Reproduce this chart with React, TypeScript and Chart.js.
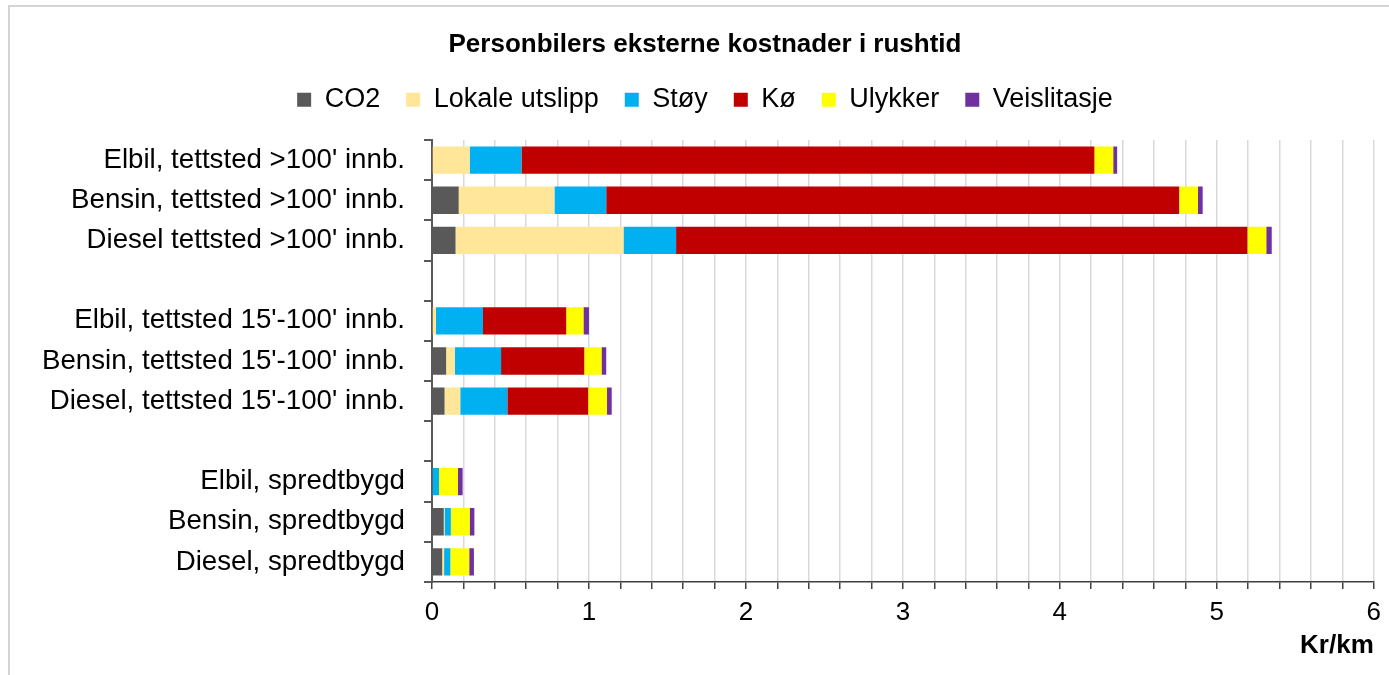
import React, { useEffect, useRef } from "react";
import { Chart, registerables } from "chart.js";

Chart.register(...registerables);

const categories: string[] = [
  "Elbil, tettsted >100' innb.",
  "Bensin, tettsted >100' innb.",
  "Diesel tettsted >100' innb.",
  "",
  "Elbil, tettsted 15'-100' innb.",
  "Bensin, tettsted 15'-100' innb.",
  "Diesel, tettsted 15'-100' innb.",
  "",
  "Elbil, spredtbygd",
  "Bensin, spredtbygd",
  "Diesel, spredtbygd",
];

const co2: (number | null)[] = [0, 0.17, 0.15, null, 0, 0.09, 0.08, null, 0, 0.075, 0.065];
const lokaleUtslipp: (number | null)[] = [0.24, 0.61, 1.07, null, 0.025, 0.055, 0.1, null, 0, 0.005, 0.012];
const stoy: (number | null)[] = [0.33, 0.33, 0.335, null, 0.3, 0.295, 0.3, null, 0.045, 0.04, 0.04];
const ko: (number | null)[] = [3.65, 3.65, 3.64, null, 0.53, 0.53, 0.515, null, 0, 0, 0];
const ulykker: (number | null)[] = [0.12, 0.12, 0.12, null, 0.11, 0.11, 0.12, null, 0.12, 0.12, 0.12];
const veislitasje: (number | null)[] = [0.025, 0.03, 0.035, null, 0.035, 0.03, 0.03, null, 0.03, 0.03, 0.03];

const seriesNames = ["CO2", "Lokale utslipp", "Støy", "Kø", "Ulykker", "Veislitasje"];
const seriesColors = ["#595959", "#FFE699", "#00B0F0", "#C00000", "#FFFF00", "#7030A0"];
const xTickLabels = ["0", "1", "2", "3", "4", "5", "6"];

const FONT = "'Liberation Sans', Arial, sans-serif";

const framePlugin = {
  id: "frame",
  beforeDraw(chart: any) {
    const ctx = chart.ctx;
    ctx.save();
    ctx.fillStyle = "#ffffff";
    ctx.fillRect(0, 0, chart.width, chart.height);
    ctx.fillStyle = "#d4d4d4";
    ctx.fillRect(8, 5, chart.width - 8, 2);
    ctx.fillRect(8, 5, 2, chart.height - 5);
    ctx.restore();
  },
};

export default function App() {
  const canvasRef = useRef<HTMLCanvasElement | null>(null);

  useEffect(() => {
    if (!canvasRef.current) return;
    const values = [co2, lokaleUtslipp, stoy, ko, ulykker, veislitasje];
    const chart = new Chart(canvasRef.current, {
      type: "bar",
      data: {
        labels: categories,
        datasets: values.map((d, i) => ({
          label: seriesNames[i],
          data: d,
          backgroundColor: seriesColors[i],
          borderWidth: 0,
          barPercentage: 0.68,
          categoryPercentage: 1,
        })),
      },
      plugins: [framePlugin],
      options: {
        indexAxis: "y",
        animation: false,
        responsive: true,
        maintainAspectRatio: false,
        layout: { padding: { left: 36, right: 15, top: 0, bottom: 0 } },
        plugins: {
          title: {
            display: true,
            text: "Personbilers eksterne kostnader i rushtid",
            color: "#000",
            font: { family: FONT, size: 26, weight: "bold" },
            padding: { top: 29, bottom: 0 },
          },
          legend: {
            display: true,
            position: "top",
            labels: {
              boxWidth: 14,
              boxHeight: 14,
              padding: 26,
              color: "#000",
              font: { family: FONT, size: 27 },
            },
          },
          tooltip: { enabled: false },
        },
        scales: {
          x: {
            type: "linear",
            stacked: true,
            min: 0,
            max: 6,
            position: "bottom",
            afterFit: (s: any) => {
              s.height = 93;
            },
            ticks: {
              stepSize: 0.2,
              autoSkip: false,
              maxRotation: 0,
              padding: 8,
              color: "#000",
              font: { family: FONT, size: 26 },
              callback: (v: any) => {
                const n = Number(v);
                const r = Math.round(n);
                return Math.abs(n - r) < 1e-6 ? xTickLabels[r] : "";
              },
            },
            grid: {
              color: "#d9d9d9",
              lineWidth: 1.5,
              tickColor: "#404040",
              tickLength: 7,
            },
            border: { display: true, color: "#404040", width: 1.5 },
            title: {
              display: true,
              text: "Kr/km",
              align: "end",
              color: "#000",
              font: { family: FONT, size: 26, weight: "bold" },
              padding: { top: 0, bottom: 14 },
            },
          },
          x2: {
            type: "linear",
            axis: "x",
            position: "top",
            display: true,
            min: 0,
            max: 1,
            afterFit: (s: any) => {
              s.height = 16.8;
            },
            ticks: { display: false },
            grid: { display: false, drawTicks: false },
            border: { display: false },
          },
          y: {
            type: "category",
            stacked: true,
            afterFit: (s: any) => {
              s.width = 396;
            },
            ticks: {
              autoSkip: false,
              padding: 19,
              color: "#000",
              font: { family: FONT, size: 27.7 },
            },
            grid: {
              offset: true,
              drawOnChartArea: false,
              drawTicks: true,
              tickLength: 8,
              tickColor: "#595959",
              lineWidth: 2,
            },
            border: { display: true, color: "#595959", width: 2 },
          },
        },
      } as any,
    });
    return () => chart.destroy();
  }, []);

  return (
    <div style={{ position: "fixed", left: 0, top: 0, width: 1389, height: 675, background: "#fff" }}>
      <canvas ref={canvasRef} />
    </div>
  );
}
